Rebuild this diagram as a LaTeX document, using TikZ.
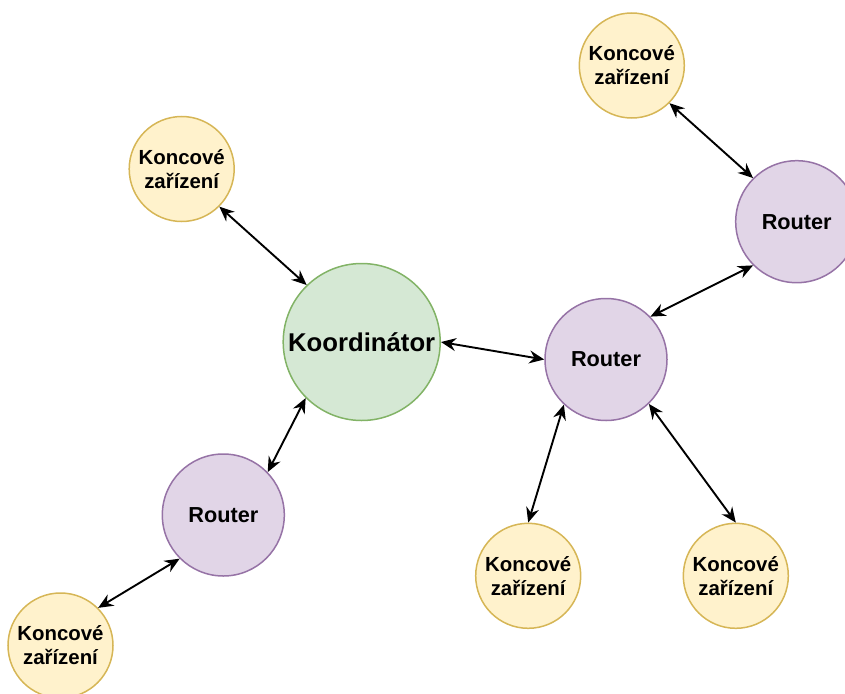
\documentclass[tikz,border=0pt]{standalone}
\usepackage{fontspec}
\setmainfont{Liberation Sans}
\usetikzlibrary{arrows.meta}
\definecolor{endfill}{HTML}{FFF2CC}
\definecolor{enddraw}{HTML}{D6B656}
\definecolor{coordfill}{HTML}{D5E8D4}
\definecolor{coorddraw}{HTML}{82B366}
\definecolor{routfill}{HTML}{E1D5E7}
\definecolor{routdraw}{HTML}{9673A6}
\tikzset{
  enddev/.style={circle, draw=enddraw, fill=endfill, line width=1.5pt, inner sep=0pt,
    minimum size=105pt, align=center, font=\bfseries\fontsize{20.4}{24}\selectfont},
  router/.style={circle, draw=routdraw, fill=routfill, line width=1.5pt, inner sep=0pt,
    minimum size=122pt, font=\bfseries\fontsize{21.7}{26}\selectfont},
  coord/.style={circle, draw=coorddraw, fill=coordfill, line width=1.5pt, inner sep=0pt,
    minimum size=157pt, font=\bfseries\fontsize{25.7}{30}\selectfont},
  link/.style={line width=1.9pt, {Stealth[length=15pt,width=13pt,inset=5pt]}-{Stealth[length=15pt,width=13pt,inset=5pt]}}
}
\begin{document}
\begin{tikzpicture}[x=1pt,y=-1pt]
\useasboundingbox (0,0) rectangle (845,693);
\clip (0,0) rectangle (845,693);
\node[coord] (K) at (361.7,342) {Koordinátor};
\node[router] (RM) at (606,359.5) {Router};
\node[router] (RT) at (796.7,221.7) {Router};
\node[router] (RL) at (223.3,515) {Router};
\node[enddev] (ET) at (631.8,65.5) {Koncové\\zařízení};
\node[enddev] (ETL) at (181.7,169) {Koncové\\zařízení};
\node[enddev] (EBL) at (60.5,645.5) {Koncové\\zařízení};
\node[enddev] (EBM) at (528.2,575.8) {Koncové\\zařízení};
\node[enddev] (EBR) at (735.8,575.8) {Koncové\\zařízení};
\draw[link] (K.east) -- (RM.west);
\draw[link] (ET.-45) -- (RT.135);
\draw[link] (RM.44) -- (RT.225);
\draw[link] (ETL.-45) -- (K.134);
\draw[link] (K.225) -- (RL.44.5);
\draw[link] (RL.225) -- (EBL.45.5);
\draw[link] (RM.227) -- (EBM.north);
\draw[link] (RM.-46) -- (EBR.north);
\end{tikzpicture}
\end{document}
